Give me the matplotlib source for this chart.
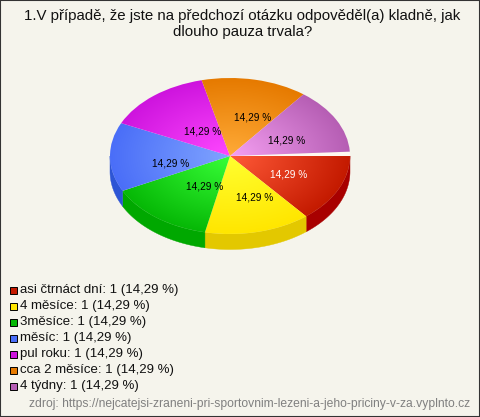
import numpy as np
import matplotlib
matplotlib.use("Agg")
import matplotlib.pyplot as plt
from matplotlib.colors import LinearSegmentedColormap
from matplotlib.patches import Polygon, Rectangle, Wedge

plt.rcParams['font.family'] = ['Liberation Sans', 'DejaVu Sans']

W, H = 480, 417
CX, CY, RX, RY = 230, 156, 120, 78
DEPTH = 15.5 / RY
GAP = 3.2
BG = '#f5f4ec'

title = "1.V případě, že jste na předchozí otázku odpověděl(a) kladně, jak\ndlouho pauza trvala?"
source = "zdroj: https://nejcatejsi-zraneni-pri-sportovnim-lezeni-a-jeho-priciny-v-za.vyplnto.cz"

categories = ['asi čtrnáct dní', '4 měsíce', '3měsíce', 'měsíc', 'pul roku', 'cca 2 měsíce', '4 týdny']
values = [1, 1, 1, 1, 1, 1, 1]
percent_text = ['14,29 %'] * 7

inner_colors = ['#ff5a38', '#ffff30', '#38ff38', '#80a4ff', '#ff48ff', '#ffab38', '#f5a0f2']
outer_colors = ['#c41a00', '#ffe600', '#06b806', '#4a6ef8', '#ce14de', '#e67a00', '#b65eb4']
wall_colors = ['#a80000', '#e3c800', '#00a800', '#2d55d5', '#9c00a8', '#b05a00', '#8a4088']
label_colors = ['white', 'black', 'black', 'black', 'black', 'black', 'black']
label_px = [(289, 174), (255, 197), (205, 186), (171, 163), (203, 131), (253, 117), (287, 140)]
legend_y = [290, 306, 322, 338, 354, 370, 386]


def fx(px):
    return px / W


def fy(py):
    return 1 - py / H


fig = plt.figure(figsize=(W / 100, H / 100), dpi=100, facecolor=BG)
ax = fig.add_axes([0, 0, 1, 1])

wedges, texts, autotexts = ax.pie(values, startangle=0.8, counterclock=False, colors=outer_colors,
                                  autopct=lambda p: f"{p:.2f} %".replace('.', ','), frame=True,
                                  textprops={'fontsize': 7.3})
ax.set_aspect('auto')
ax.set_autoscale_on(False)
ax.axis('off')

# first slice starts flat, last one stops short of it and leaves a white gap
wedges[0].set_theta2(0)
wedges[-1].set_theta1(GAP - 360)
ax.add_patch(Wedge((0, 0), 1.0, 0, GAP, facecolor='#fff8f0', edgecolor='none', zorder=0.6))

# side wall, only the front half of the disc shows
for wedge, color in zip(wedges, wall_colors):
    t1, t2 = wedge.theta1 + 360, wedge.theta2 + 360
    t1, t2 = max(t1, 180), min(t2, 360)
    if t2 <= t1:
        continue
    t = np.radians(np.linspace(t1, t2, 60))
    top = np.column_stack([np.cos(t), np.sin(t)])
    bottom = (top - [0, DEPTH])[::-1]
    ax.add_patch(Polygon(np.vstack([top, bottom]), closed=True, facecolor=color, edgecolor=color, lw=0.3, zorder=0.5))

# radial shading, lighter at the middle of the disc
yy, xx = np.mgrid[-1:1:300j, -1:1:300j]
rr = np.clip(np.hypot(xx, yy), 0, 1)
for wedge, c_in, c_out in zip(wedges, inner_colors, outer_colors):
    cmap = LinearSegmentedColormap.from_list('shade', [c_in, c_out])
    im = ax.imshow(rr, cmap=cmap, vmin=0, vmax=1, extent=(-1, 1, -1, 1), origin='lower',
                   aspect='auto', interpolation='bilinear', zorder=1)
    wedge.set_facecolor('none')
    wedge.set_edgecolor('none')
    im.set_clip_path(wedge)

ax.set_xlim(-CX / RX, (W - CX) / RX)
ax.set_ylim((CY - H) / RY, CY / RY)

for txt, label, color, (px, py) in zip(autotexts, percent_text, label_colors, label_px):
    txt.set_text(label)
    txt.set_color(color)
    txt.set_position(((px - CX) / RX, (CY - py) / RY))
    txt.set_zorder(5)

fig.text(fx(242.5), fy(24), title, ha='center', va='center', fontsize=10.85, color='#111111', linespacing=1.26)

for name, val, pct, color, y in zip(categories, values, percent_text, outer_colors, legend_y):
    fig.add_artist(Rectangle((fx(9.5), fy(y + 4)), 7.5 / W, 7.5 / H, transform=fig.transFigure,
                             facecolor=color, edgecolor='black', lw=0.7))
    fig.text(fx(20), fy(y), f"{name}: {val} ({pct})", ha='left', va='center', fontsize=9.5, color='#111111')

fig.text(fx(470), fy(404), source, ha='right', va='center', fontsize=8.72, color='#808080')

fig.add_artist(Rectangle((0, 0), 1, 1, transform=fig.transFigure, fill=False, edgecolor='#333333', lw=1.5))

fig.savefig('out.png', dpi=100, facecolor=BG)
